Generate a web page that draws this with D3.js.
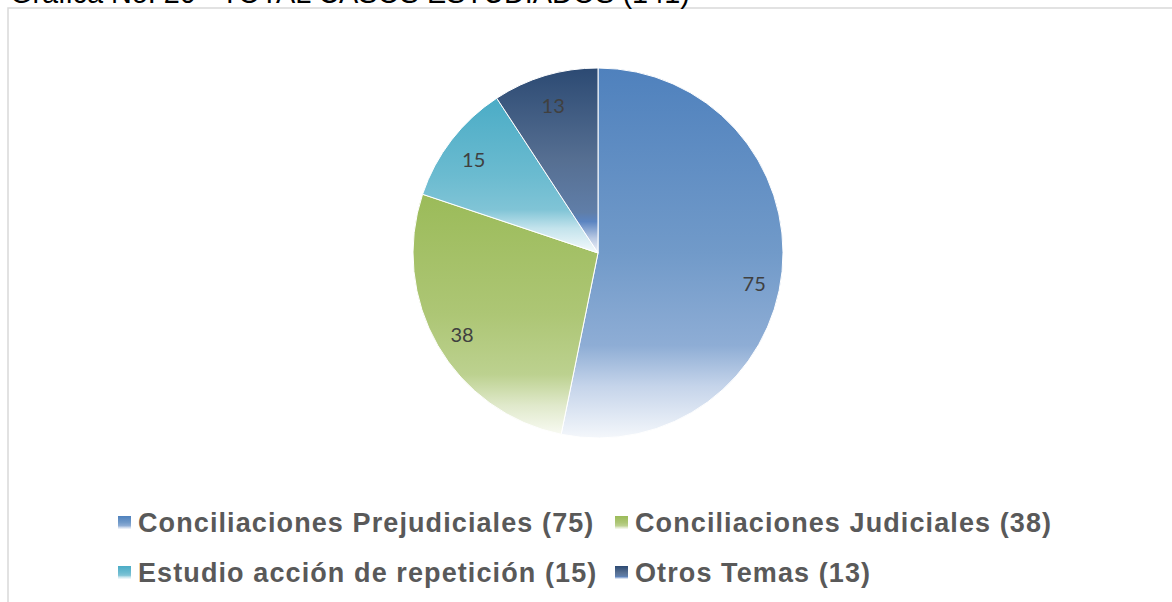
<!DOCTYPE html>
<html>
<head>
<meta charset="utf-8">
<script src="https://cdn.jsdelivr.net/npm/d3@7"></script>
<style>
  body { margin: 0; background: #fff; }
  svg { display: block; }
</style>
</head>
<body>
<div id="grafica"></div>
<script>
// données
var categories = ["Conciliaciones Prejudiciales", "Conciliaciones Judiciales", "Estudio acción de repetición", "Otros Temas"];
var valeurs = [75, 38, 15, 13];
var titre = "Gráfica No. 20 - TOTAL CASOS ESTUDIADOS (141)";

// dégradés (couleur haut -> blanc en bas)
var degrades = [
  [[0, "#4f81bd"], [0.5, "#719ac9"], [0.75, "#8eadd5"], [0.86, "#c5d4ea"], [1, "#f4f7fb"]],
  [[0, "#9bbb59"], [0.5, "#adc675"], [0.75, "#bcd18f"], [0.88, "#e0e9cb"], [1, "#f8faf2"]],
  [[0, "#4bacc6"], [0.5, "#6bbbd0"], [0.72, "#80c4d6"], [0.84, "#c3e3ec"], [1, "#f5fafc"]],
  [[0, "#2c4a73"], [0.5, "#566f92"], [0.78, "#607ea8"], [0.83, "#5b84c1"], [0.92, "#b9c9e3"], [1, "#f2f5fa"]]
];

var largeurSvg = 1172, hauteurSvg = 602;
var svg = d3.select("#grafica").append("svg")
    .attr("width", largeurSvg)
    .attr("height", hauteurSvg);

var defs = svg.append("defs");
degrades.forEach(function(stops, i) {
  var g = defs.append("linearGradient")
      .attr("id", "deg" + i)
      .attr("x1", 0).attr("y1", 0).attr("x2", 0).attr("y2", 1);
  stops.forEach(function(s) {
    g.append("stop").attr("offset", s[0]).attr("stop-color", s[1]);
  });
});

// cadre
svg.append("rect")
    .attr("x", 8).attr("y", 8)
    .attr("width", largeurSvg + 20).attr("height", hauteurSvg + 20)
    .attr("fill", "#fff")
    .attr("stroke", "#d9d9d9")
    .attr("stroke-width", 1.5);

// titre (coupé en haut, comme sur l'original)
var t = svg.append("text")
    .attr("x", 10).attr("y", 3)
    .attr("font-family", "Liberation Sans, Arial, sans-serif")
    .attr("font-size", 100)
    .attr("fill", "#000")
    .text(titre);
var tw = t.node().getComputedTextLength();
t.attr("font-size", 100 * 680 / tw);

// camembert
var cx = 598, cy = 253, rayon = 185;
var pie = d3.pie().sort(null).value(function(d) { return d; });
var arc = d3.arc().innerRadius(0).outerRadius(rayon);
var arcLabel = d3.arc().innerRadius(157).outerRadius(157);

var g = svg.append("g").attr("transform", "translate(" + cx + "," + cy + ")");
var parts = pie(valeurs);

g.selectAll("path")
  .data(parts)
  .enter().append("path")
    .attr("d", arc)
    .attr("fill", function(d, i) { return "url(#deg" + i + ")"; })
    .attr("stroke", "#fff")
    .attr("stroke-width", 1);

g.selectAll("text")
  .data(parts)
  .enter().append("text")
    .attr("transform", function(d, i) {
      var c = arcLabel.centroid(d);
      if (i === 0) c[1] += 12;
      return "translate(" + c + ")";
    })
    .attr("text-anchor", "middle")
    .attr("dy", "0.5em")
    .attr("font-family", "Lato, Open Sans, sans-serif")
    .attr("font-size", 20)
    .attr("fill", "#404040")
    .text(function(d) { return d.data; });

// légende
var legende = svg.append("g")
    .attr("font-family", "Liberation Sans, Arial, sans-serif")
    .attr("font-weight", "bold")
    .attr("font-size", 27)
    .attr("letter-spacing", "1.1px")
    .attr("fill", "#595959");

var xCol = [118, 615], yLig = [522, 572];
categories.forEach(function(cat, i) {
  var col = i % 2, lig = Math.floor(i / 2);
  var item = legende.append("g")
      .attr("transform", "translate(" + xCol[col] + "," + yLig[lig] + ")");
  item.append("rect")
      .attr("x", 0).attr("y", -6)
      .attr("width", 13).attr("height", 13)
      .attr("fill", "url(#deg" + i + ")");
  item.append("text")
      .attr("x", 20)
      .attr("dy", "0.36em")
      .text(cat + " (" + valeurs[i] + ")");
});
</script>
</body>
</html>
